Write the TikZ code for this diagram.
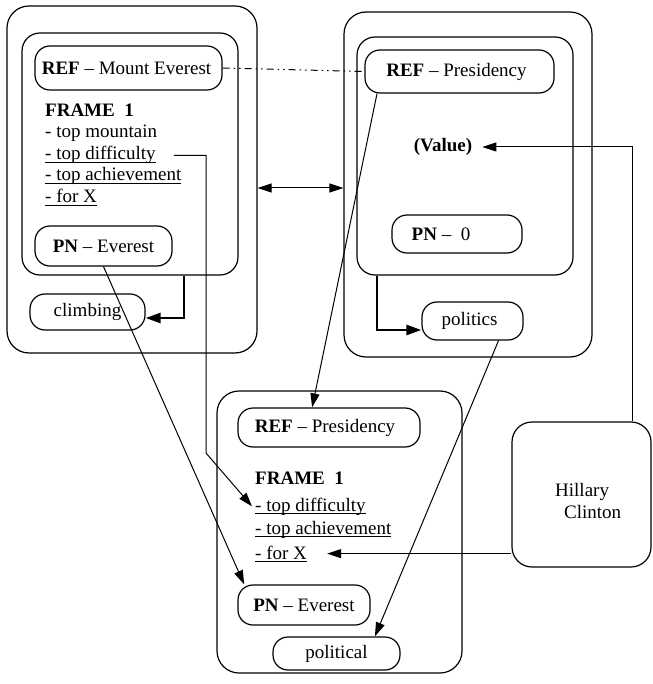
\documentclass[tikz,border=0pt]{standalone}
\usepackage{fontspec}
\setmainfont{Liberation Serif}
\usetikzlibrary{arrows.meta}
\newcommand\myul[1]{\setbox0\hbox{#1}\rlap{\rule[-2.6pt]{\wd0}{0.9pt}}\box0}
\begin{document}
\begin{tikzpicture}[x=1pt,y=-1pt,
  font=\fontsize{19}{22}\selectfont,
  outerbox/.style={draw, line width=1.2pt, rounded corners=22pt},
  innerbox/.style={draw, line width=1.2pt, rounded corners=18pt},
  pill/.style={draw, line width=1.2pt, rounded corners=15pt, inner sep=0pt},
  txt/.style={inner sep=0pt, anchor=base west},
  arr/.style={line width=1pt, -{Triangle[length=14pt,width=9pt]}},
  thickarr/.style={line width=2.6pt, -{Triangle[length=15pt,width=10pt]}},
  dblarr/.style={line width=1pt, {Triangle[length=14pt,width=9pt]}-{Triangle[length=14pt,width=9pt]}},
  dashdot/.style={line width=1pt, dash pattern=on 7pt off 4pt on 1.5pt off 4pt on 1.5pt off 4pt},
]
\useasboundingbox (0,0) rectangle (652,684);

% ---- left frame ----
\node[outerbox, minimum width=250pt, minimum height=347pt] (outerL) at (132,179.5) {};
\node[innerbox, minimum width=216pt, minimum height=242pt] (innerL) at (130,154) {};
\node[pill, minimum width=187pt, minimum height=44pt] (refL) at (128.5,68) {\hspace*{-4pt}\textbf{REF} -- Mount Everest};
\node[txt] (frL) at (45,117) {\textbf{FRAME\ \ 1}};
\node[txt] (tmL) at (45,138) {- top mountain};
\node[txt] (tdL) at (45,160) {\myul{- top difficulty}};
\node[txt] (taL) at (45,181) {\myul{- top achievement}};
\node[txt] (fxL) at (45,203) {\myul{- for X}};
\node[pill, minimum width=137pt, minimum height=40pt] (pnL) at (103.5,246) {\textbf{PN} -- Everest};
\node[pill, minimum width=115pt, minimum height=36pt] (climbing) at (87.5,312) {climbing};

% ---- right frame ----
\node[outerbox, minimum width=248pt, minimum height=345pt] (outerR) at (468,184.5) {};
\node[innerbox, minimum width=216pt, minimum height=238pt] (innerR) at (465,156) {};
\node[pill, minimum width=189pt, minimum height=43pt] (refR) at (459.5,71.5) {\hspace*{-6pt}\textbf{REF} -- Presidency};
\node[inner sep=0pt] (value) at (443,147) {\textbf{(Value)}};
\node[pill, minimum width=130pt, minimum height=38pt] (pn0) at (457,234) {\hspace*{-32pt}\textbf{PN} --\ \ 0};
\node[pill, minimum width=101pt, minimum height=38pt] (politics) at (472.5,321) {\hspace*{-6pt}politics};

% ---- bottom frame ----
\node[outerbox, minimum width=245pt, minimum height=282pt] (outerB) at (339.5,532) {};
\node[pill, minimum width=182pt, minimum height=39pt] (refB) at (329,427.5) {\hspace*{-8pt}\textbf{REF} -- Presidency};
\node[txt] (frB) at (255,484) {\textbf{FRAME\ \ 1}};
\node[txt] (tdB) at (255,511) {\myul{- top difficulty}};
\node[txt] (taB) at (255,534) {\myul{- top achievement}};
\node[txt] (fxB) at (255,559) {\myul{- for X}};
\node[pill, minimum width=132pt, minimum height=40pt] (pnB) at (304,605) {\textbf{PN} -- Everest};
\node[pill, minimum width=127pt, minimum height=33pt] (political) at (336.5,653.5) {political};

% ---- Hillary Clinton ----
\node[draw, line width=1.2pt, rounded corners=20pt, minimum width=139pt, minimum height=145pt] (hillary) at (581.5,494.5) {};
\node[txt] (hil1) at (555,496) {Hillary};
\node[txt] (hil2) at (564,518) {Clinton};

% ---- connectors ----
\coordinate (dbl) at (300,188);
\coordinate (tl) at (184,318);
\coordinate (tr) at (377,330);
\coordinate (tdc) at (206,453);
\coordinate (vc) at (632,147);

\draw[dashdot] (refL.east) -- (refR.west);
\draw[dblarr] (outerL.east |- dbl) -- (outerR.west |- dbl);
\draw[thickarr] (innerL.south -| tl) -- (tl) -- (climbing.east |- tl);
\draw[thickarr] (innerR.south -| tr) -- (tr) -- (politics.west |- tr);
\draw[arr] ([xshift=18pt]tdL.east) -| (tdc) -- ([xshift=-3pt]tdB.west);
\draw[arr] (hillary.north -| vc) -- (vc) -- ([xshift=10pt]value.east);
\draw[arr] (hillary.west |- fxB.east) -- ([xshift=20pt]fxB.east);
\draw[arr] (pnL.south) -- (pnB.161);
\draw[arr] (refR.195) -- (refB.130);
\draw[arr] (politics.323) -- (political.24);
\end{tikzpicture}
\end{document}
